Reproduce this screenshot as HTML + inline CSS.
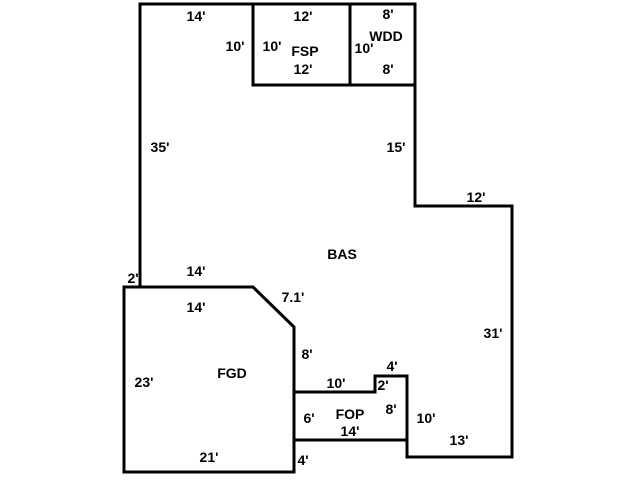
<!DOCTYPE html>
<html><head><meta charset="utf-8"><style>
html,body{margin:0;padding:0;background:#fff;}
svg{display:block;}
text{font-family:"Liberation Sans",sans-serif;font-weight:bold;font-size:14px;fill:#000;text-anchor:middle;dominant-baseline:central;}
</style></head><body>
<svg width="640" height="480" viewBox="0 0 640 480">
<g fill="none" stroke="#000" stroke-width="3" stroke-linejoin="miter">
<polyline points="140,287 140,4 415,4 415,206 512,206 512,457 407,457 407,376 375,376 375,392 294,392"/>
<polygon points="124,287 253,287 294,327 294,472 124,472"/>
<polyline points="253,4 253,85 415,85"/>
<line x1="350" y1="4" x2="350" y2="85"/>
<polyline points="294,392 294,440 407,440"/>
<line x1="124" y1="287" x2="140" y2="287"/>
</g>
<text x="196" y="16">14'</text>
<text x="303" y="16">12'</text>
<text x="388" y="14">8'</text>
<text x="235" y="46">10'</text>
<text x="272" y="46">10'</text>
<text x="305" y="51">FSP</text>
<text x="303" y="69">12'</text>
<text x="386" y="36">WDD</text>
<text x="364" y="48">10'</text>
<text x="388" y="69">8'</text>
<text x="160" y="147">35'</text>
<text x="396" y="147">15'</text>
<text x="476" y="197">12'</text>
<text x="342" y="254">BAS</text>
<text x="133" y="278">2'</text>
<text x="196" y="271">14'</text>
<text x="196" y="307">14'</text>
<text x="293" y="297">7.1'</text>
<text x="493" y="333">31'</text>
<text x="307" y="354">8'</text>
<text x="144" y="382">23'</text>
<text x="232" y="373">FGD</text>
<text x="392" y="366">4'</text>
<text x="336" y="383">10'</text>
<text x="383" y="385">2'</text>
<text x="391" y="409">8'</text>
<text x="309" y="418">6'</text>
<text x="350" y="414">FOP</text>
<text x="350" y="431">14'</text>
<text x="426" y="418">10'</text>
<text x="459" y="440">13'</text>
<text x="209" y="457">21'</text>
<text x="303" y="460">4'</text>
</svg>
</body></html>
